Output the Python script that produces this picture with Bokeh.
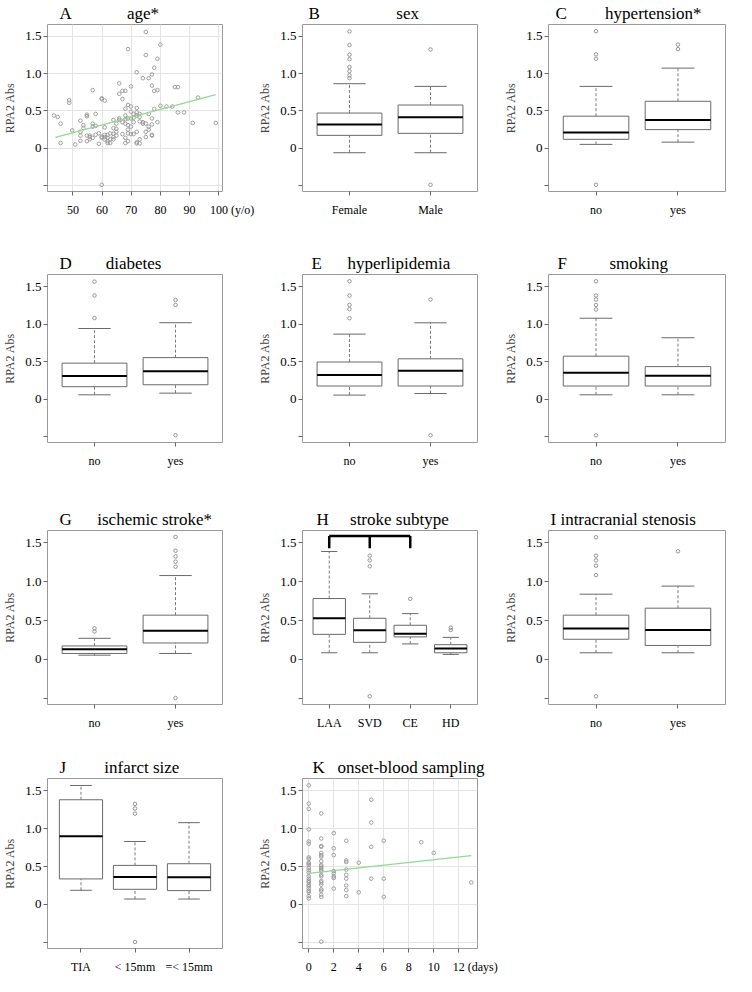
from bokeh.plotting import figure
from bokeh.layouts import column, row
from bokeh.models import Range1d, FixedTicker
from bokeh.embed import file_html
from bokeh.resources import INLINE

# ---------------- data ----------------
# A: age vs RPA2 Abs
age_x = [43.5, 44.8, 45.8, 45.8, 48.75, 48.75, 49.8, 50.8, 52.6, 52.6, 52.6, 52.6, 53.6, 53.6,
         54.8, 54.8, 54.8, 54.8, 55.8, 55.8, 55.8, 56.8, 56.8, 56.8, 56.8, 57.8, 57.8, 57.8,
         58.9, 58.9, 59.9, 59.9, 59.9, 59.9, 59.9, 60.9, 60.9, 60.9, 60.9, 60.9, 61.9, 61.9,
         61.9, 61.9, 62.8, 62.8, 62.8, 63.9, 63.9, 63.9, 63.9, 63.9, 64.9, 64.9, 64.9, 64.9,
         65.9, 65.9, 65.9, 65.9, 67.0, 67.0, 67.0, 67.0, 68.0, 68.0, 68.0, 68.0, 68.0, 68.0,
         68.0, 68.9, 68.9, 68.9, 68.9, 68.9, 68.9, 68.9, 69.9, 69.9, 69.9, 69.9, 69.9, 69.9,
         70.8, 70.8, 70.8, 70.8, 71.9, 71.9, 71.9, 71.9, 71.9, 71.9, 71.9, 72.9, 72.9, 72.9,
         72.9, 72.9, 74.0, 74.0, 74.0, 75.0, 75.0, 75.0, 75.0, 75.0, 76.0, 76.0, 76.0, 76.0,
         77.1, 77.1, 77.1, 77.1, 77.1, 77.1, 77.9, 77.9, 77.9, 79.0, 79.0, 79.0, 80.0, 80.0,
         82.1, 84.1, 85.0, 86.0, 86.0, 88.1, 91.1, 92.9, 99.0]
age_y = [0.44, 0.42, 0.33, 0.07, 0.645, 0.61, 0.24, 0.05, 0.37, 0.22, 0.17, 0.10, 0.31, 0.27,
         0.45, 0.43, 0.17, 0.095, 0.17, 0.15, 0.12, 0.78, 0.33, 0.29, 0.14, 0.46, 0.30, 0.18,
         0.20, 0.06, 0.67, 0.66, 0.155, 0.14, -0.49, 0.64, 0.28, 0.18, 0.15, 0.12, 0.18, 0.14,
         0.095, 0.07, 0.20, 0.12, 0.07, 0.38, 0.27, 0.195, 0.15, 0.12, 0.33, 0.26, 0.22, 0.17,
         0.87, 0.73, 0.40, 0.38, 0.77, 0.66, 0.35, 0.19, 0.77, 0.53, 0.44, 0.39, 0.33, 0.14,
         0.07, 1.33, 0.58, 0.40, 0.31, 0.25, 0.20, 0.095, 0.83, 0.56, 0.49, 0.40, 0.29, 0.19,
         0.46, 0.41, 0.35, 0.19, 1.02, 0.54, 0.48, 0.44, 0.22, 0.08, 0.065, 0.46, 0.42, 0.36,
         0.12, 0.065, 0.94, 0.35, 0.33, 1.56, 1.25, 0.33, 0.22, 0.15, 0.94, 0.46, 0.29, 0.25,
         0.99, 0.84, 0.40, 0.32, 0.18, 0.17, 1.08, 0.77, 0.53, 1.20, 0.78, 0.35, 1.39, 0.57,
         0.56, 0.56, 0.82, 0.82, 0.48, 0.48, 0.34, 0.68, 0.34]
age_fit_x = [44, 99]
age_fit_y = [0.147, 0.72]
age_ticks = [50, 60, 70, 80, 90, 100]
age_tick_labels = ["50", "60", "70", "80", "90", "100 (y/o)"]

# K: onset-blood sampling (days) vs RPA2 Abs
days_x = [0] * 25 + [1] * 23 + [2] * 8 + [3] * 9 + [4] * 2 + [5] * 4 + [6] * 3 + [9, 10, 13]
days_y = [1.57, 1.33, 1.26, 0.99, 0.83, 0.80, 0.62, 0.60, 0.55, 0.54, 0.52, 0.48, 0.45, 0.42,
          0.37, 0.34, 0.31, 0.29, 0.26, 0.24, 0.21, 0.18, 0.16, 0.11, 0.08,
          1.20, 0.87, 0.77, 0.76, 0.68, 0.65, 0.63, 0.57, 0.52, 0.50, 0.48, 0.46, 0.44, 0.39,
          0.37, 0.31, 0.29, 0.26, 0.20, 0.18, 0.13, 0.10, -0.49,
          0.94, 0.74, 0.65, 0.44, 0.41, 0.37, 0.35, 0.21,
          0.84, 0.58, 0.56, 0.46, 0.39, 0.34, 0.25, 0.19, 0.11,
          0.55, 0.16,
          1.38, 1.08, 0.76, 0.34,
          0.84, 0.34, 0.10,
          0.82, 0.68, 0.29]
days_fit_x = [0, 13]
days_fit_y = [0.41, 0.645]
days_ticks = [0, 2, 4, 6, 8, 10, 12]
days_tick_labels = ["0", "2", "4", "6", "8", "10", "12 (days)"]

# box plot panels: stats = [low whisker, Q1, median, Q3, high whisker]
sex_labels = ["Female", "Male"]
sex_stats = [[-0.06, 0.173, 0.32, 0.472, 0.866], [-0.06, 0.20, 0.415, 0.58, 0.83]]
sex_out = [[1.567, 1.385, 1.255, 1.195, 1.09, 1.035, 0.98, 0.94], [1.325, -0.49]]

htn_labels = ["no", "yes"]
htn_stats = [[0.052, 0.12, 0.21, 0.43, 0.83], [0.082, 0.25, 0.38, 0.63, 1.075]]
htn_out = [[1.57, 1.26, 1.20, -0.49], [1.39, 1.33]]

dm_labels = ["no", "yes"]
dm_stats = [[0.056, 0.164, 0.306, 0.478, 0.94], [0.078, 0.19, 0.37, 0.552, 1.017]]
dm_out = [[1.565, 1.38, 1.078], [1.32, 1.254, -0.483]]

hl_labels = ["no", "yes"]
hl_stats = [[0.052, 0.173, 0.32, 0.493, 0.865], [0.073, 0.173, 0.376, 0.536, 1.016]]
hl_out = [[1.57, 1.38, 1.254, 1.198, 1.077], [1.327, -0.484]]

smk_labels = ["no", "yes"]
smk_stats = [[0.056, 0.173, 0.35, 0.571, 1.077], [0.056, 0.173, 0.311, 0.432, 0.817]]
smk_out = [[1.57, 1.38, 1.327, 1.254, 1.193, -0.484], []]

isc_labels = ["no", "yes"]
isc_stats = [[0.055, 0.077, 0.132, 0.174, 0.272], [0.077, 0.212, 0.37, 0.57, 1.08]]
isc_out = [[0.40, 0.36], [1.577, 1.40, 1.326, 1.258, 1.194, -0.497]]

sub_labels = ["LAA", "SVD", "CE", "HD"]
sub_stats = [[0.086, 0.323, 0.53, 0.784, 1.39], [0.086, 0.22, 0.375, 0.53, 0.845],
             [0.20, 0.29, 0.33, 0.44, 0.59], [0.065, 0.086, 0.142, 0.19, 0.284]]
sub_out = [[], [1.336, 1.276, 1.20, -0.474], [0.78], [0.41, 0.38]]
sub_bracket_groups = [1, 2, 3]
sub_bracket_top = 1.59
sub_bracket_bottom = 1.43

ics_labels = ["no", "yes"]
ics_stats = [[0.086, 0.26, 0.40, 0.57, 0.84], [0.086, 0.18, 0.38, 0.66, 0.944]]
ics_out = [[1.573, 1.336, 1.276, 1.207, 1.086, -0.474], [1.392]]

inf_labels = ["TIA", "< 15mm", "=< 15mm"]
inf_stats = [[0.187, 0.337, 0.90, 1.38, 1.568], [0.072, 0.20, 0.362, 0.515, 0.83],
             [0.072, 0.183, 0.358, 0.537, 1.078]]
inf_out = [[], [1.325, 1.265, 1.197, -0.494], []]

y_ticks = [-0.5, 0, 0.5, 1, 1.5]
y_tick_labels = ["", "0", "0.5", "1.0", "1.5"]

# ---------------- layout / style ----------------
FONT = "Liberation Serif"
NB = "\u00a0"
COLS = [(255, 36, 33), (246, 36, 24), (235, 38, 11)]   # width, left border, right border
ROWS = [(248, 23, 57), (254, 26, 60), (246, 28, 44), (228, 30, 24)]  # height, top, bottom
Y_RANGE = (-0.58, 1.66)


def make_panel(c, r, xr, xticks, xlabels, title, letter_dx, grid=False):
    w, bl, br = COLS[c]
    h, bt, bb = ROWS[r]
    p = figure(width=w, height=h, x_range=Range1d(*xr), y_range=Range1d(*Y_RANGE),
               output_backend="svg", toolbar_location=None,
               min_border_left=bl, min_border_right=br, min_border_top=bt, min_border_bottom=bb)
    p.title.text = title
    p.title.align = "left"
    p.title.offset = letter_dx
    p.title.text_font = FONT
    p.title.text_font_size = "17px"
    p.title.text_font_style = "normal"
    p.title.text_color = "black"
    p.title.standoff = 3
    p.outline_line_color = "#9a9a9a"
    p.outline_line_width = 1
    for ax in (p.xaxis[0], p.yaxis[0]):
        ax.axis_line_color = None
        ax.major_tick_in = 0
        ax.major_tick_out = 4
        ax.major_tick_line_color = "#666666"
        ax.minor_tick_line_color = None
        ax.major_label_text_font = FONT
        ax.major_label_text_color = "black"
    p.xaxis.major_label_text_font_size = "12px"
    p.yaxis.major_label_text_font_size = "13px"
    p.yaxis.ticker = FixedTicker(ticks=y_ticks)
    p.yaxis.major_label_overrides = dict(zip(y_ticks, y_tick_labels))
    p.yaxis.major_label_standoff = 2
    p.yaxis.axis_label = "RPA2 Abs"
    p.yaxis.axis_label_text_font = FONT
    p.yaxis.axis_label_text_font_size = "12px"
    p.yaxis.axis_label_text_font_style = "normal"
    p.yaxis.axis_label_standoff = 5
    p.xaxis.ticker = FixedTicker(ticks=xticks)
    p.xaxis.major_label_overrides = dict(zip(xticks, xlabels))
    p.xaxis.major_label_standoff = 7
    if grid:
        p.grid.grid_line_color = "#e4e4e4"
        p.grid.grid_line_width = 1
        p.xgrid.ticker = FixedTicker(ticks=xticks)
        p.ygrid.ticker = FixedTicker(ticks=y_ticks)
    else:
        p.grid.visible = False
    return p


def title_text(letter, gap, main):
    return (letter + NB * gap + main) if letter else main


def box_panel(c, r, labels, stats, outliers, title, letter_dx):
    n = len(labels)
    xs = list(range(1, n + 1))
    pad = 0.04 * n
    p = make_panel(c, r, (0.5 - pad, n + 0.5 + pad), xs, labels, title, letter_dx)
    lo = [s[0] for s in stats]
    q1 = [s[1] for s in stats]
    med = [s[2] for s in stats]
    q3 = [s[3] for s in stats]
    hi = [s[4] for s in stats]
    bw, cw = 0.4, 0.2
    # whiskers
    p.segment(x0=xs, y0=q3, x1=xs, y1=hi, line_color="#7a7a7a", line_dash="3 2", line_width=1)
    p.segment(x0=xs, y0=lo, x1=xs, y1=q1, line_color="#7a7a7a", line_dash="3 2", line_width=1)
    p.segment(x0=[x - cw for x in xs], y0=hi, x1=[x + cw for x in xs], y1=hi,
              line_color="#6a6a6a", line_width=1)
    p.segment(x0=[x - cw for x in xs], y0=lo, x1=[x + cw for x in xs], y1=lo,
              line_color="#6a6a6a", line_width=1)
    # boxes
    p.vbar(x=xs, width=2 * bw, bottom=q1, top=q3, fill_color="white",
           line_color="#6a6a6a", line_width=1)
    p.segment(x0=[x - bw for x in xs], y0=med, x1=[x + bw for x in xs], y1=med,
              line_color="black", line_width=2)
    ox = [x for x, o in zip(xs, outliers) for _ in o]
    oy = [v for o in outliers for v in o]
    p.scatter(x=ox, y=oy, size=3.5, marker="circle", fill_color=None,
              line_color="#8a8a8a", line_width=0.9)
    return p


# A
age_lbls = age_tick_labels[:-1] + [NB * 9 + age_tick_labels[-1]]
pA = make_panel(0, 0, (41.3, 101.3), age_ticks, age_lbls,
                title_text("A", 13, "age*"), 12, grid=True)
pA.scatter(x=age_x, y=age_y, size=3.6, marker="circle", fill_color=None,
           line_color="#959595", line_width=0.9)
pA.line(x=age_fit_x, y=age_fit_y, line_color="#93d893", line_width=1.2)

pB = box_panel(1, 0, sex_labels, sex_stats, sex_out, title_text("B", 18, "sex"), 6)
pC = box_panel(2, 0, htn_labels, htn_stats, htn_out, title_text("C", 9, "hypertension*"), 7)

pD = box_panel(0, 1, dm_labels, dm_stats, dm_out, title_text("D", 8, "diabetes"), 12)
pE = box_panel(1, 1, hl_labels, hl_stats, hl_out, title_text("E", 6, "hyperlipidemia"), 9)
pF = box_panel(2, 1, smk_labels, smk_stats, smk_out, title_text("F", 10, "smoking"), 9)

pG = box_panel(0, 2, isc_labels, isc_stats, isc_out, title_text("G", 6, "ischemic stroke*"), 12)
pH = box_panel(1, 2, sub_labels, sub_stats, sub_out, title_text("H", 5, "stroke subtype"), 14)
pH.line(x=[sub_bracket_groups[0], sub_bracket_groups[-1]], y=[sub_bracket_top] * 2,
        line_color="black", line_width=2.5)
pH.segment(x0=sub_bracket_groups, y0=[sub_bracket_top] * 3, x1=sub_bracket_groups,
           y1=[sub_bracket_bottom] * 3, line_color="black", line_width=2.5)
pI = box_panel(2, 2, ics_labels, ics_stats, ics_out, "I intracranial stenosis", 2)

pJ = box_panel(0, 3, inf_labels, inf_stats, inf_out, title_text("J", 9, "infarct size"), 12)

days_lbls = days_tick_labels[:-1] + [NB * 11 + days_tick_labels[-1]]
pK = make_panel(1, 3, (-0.5, 13.5), days_ticks, days_lbls,
                title_text("K", 3, "onset-blood sampling"), 10, grid=True)
pK.scatter(x=days_x, y=days_y, size=3.6, marker="circle", fill_color=None,
           line_color="#959595", line_width=0.9)
pK.line(x=days_fit_x, y=days_fit_y, line_color="#93d893", line_width=1.2)

layout = column(row(pA, pB, pC), row(pD, pE, pF), row(pG, pH, pI), row(pJ, pK))

open("out.html", "w").write(file_html(layout, INLINE))
